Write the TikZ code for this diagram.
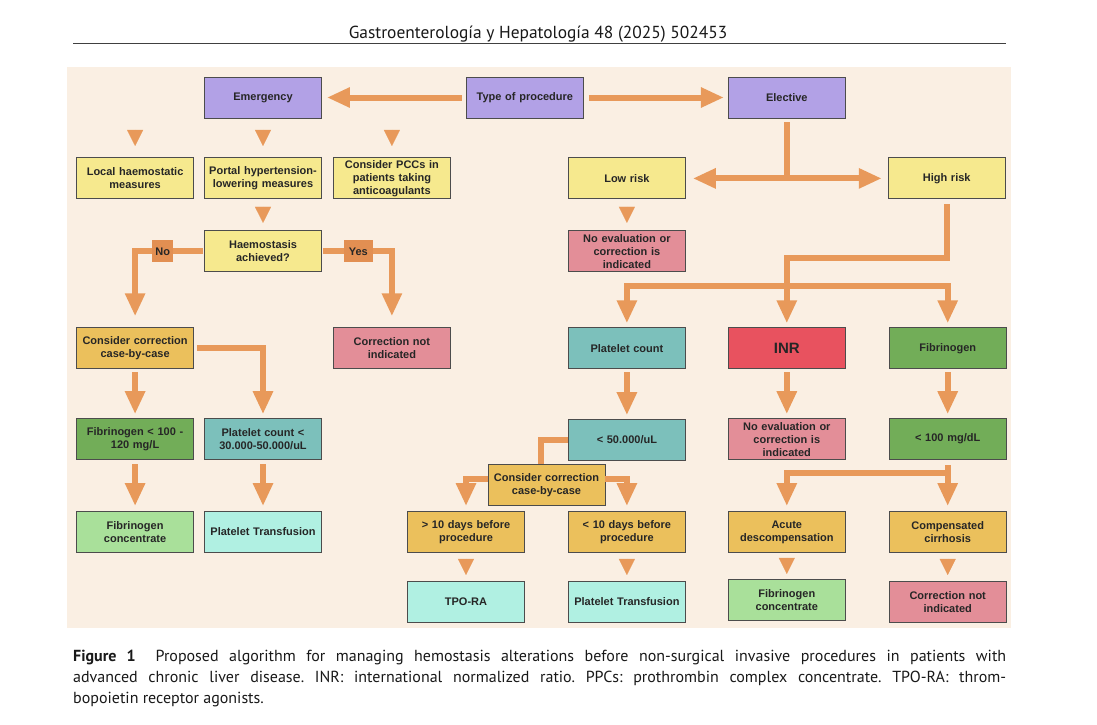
\documentclass[tikz,border=0pt]{standalone}
\usepackage{fontspec}
\newfontfamily\boxfont{Liberation Sans}
\newfontfamily\pagefont{PT Sans}
\usepackage{tikz}
\usetikzlibrary{positioning,arrows.meta,calc}
\frenchspacing
\definecolor{paper}{HTML}{FAEFE3}
\definecolor{flow}{HTML}{E8995A}
\definecolor{flagcol}{HTML}{E28F52}
\definecolor{lavender}{HTML}{B2A1E6}
\definecolor{lemon}{HTML}{F6E98E}
\definecolor{gold}{HTML}{EBC05C}
\definecolor{rose}{HTML}{E38E98}
\definecolor{tealbox}{HTML}{7CC0BB}
\definecolor{inrred}{HTML}{E8525F}
\definecolor{leaf}{HTML}{72AD58}
\definecolor{mint}{HTML}{A9E09A}
\definecolor{aqua}{HTML}{B0F0E2}
\tikzset{
  box/.style={draw=black!70, line width=0.9pt, minimum width=117pt, minimum height=41pt, text width=112pt, align=center, inner sep=2pt, text=black!85, font=\boxfont\bfseries\fontsize{11}{13}\selectfont},
  proc box/.style={box, fill=lavender},
  measure box/.style={box, fill=lemon},
  choice box/.style={box, fill=gold},
  stop box/.style={box, fill=rose},
  count box/.style={box, fill=tealbox},
  inr box/.style={box, fill=inrred, font=\boxfont\bfseries\fontsize{15}{17}\selectfont},
  fib box/.style={box, fill=leaf},
  fibconc box/.style={box, fill=mint},
  drug box/.style={box, fill=aqua},
  flag/.style={fill=flagcol, text=black!85, inner sep=0pt, minimum height=22pt, minimum width=21pt, font=\boxfont\bfseries\fontsize{11}{13}\selectfont},
  flow line/.style={draw=flow, line width=6pt},
  flow arrow/.style={flow line, -{Triangle[width=19pt,length=23pt]}, shorten <=3pt, shorten >=4pt},
  gap arrow/.style={draw=flow, line width=0.1pt, -{Triangle[width=16pt,length=16pt]}, shorten <=#1, shorten >=#1},
  gap arrow/.default=11.5pt,
}

\begin{document}
\begin{tikzpicture}[x=1pt,y=1pt]
\useasboundingbox (0,0) rectangle (1097,-725);
\fill[white] (0,0) rectangle (1097,-725);
\fill[paper] (67,-67) rectangle (1011,-628);

% page header and caption
\node[anchor=base, inner sep=0pt, font=\pagefont\fontsize{17.4}{20}\selectfont, text=black!90] (header) at (538,-38) {Gastroenterología y Hepatología 48 (2025) 502453};
\draw[black!75, line width=0.8pt] (73,-43.5) -- (1006,-43.5);
\node[anchor=north west, inner sep=0pt, text width=933pt, align=justify, font=\pagefont\fontsize{16}{21}\selectfont, text=black!90] (caption) at (73,-650)
  {\textbf{Figure 1}\hspace{20pt}Proposed algorithm for managing hemostasis alterations before non-surgical invasive procedures in patients with\linebreak advanced chronic liver disease. INR: international normalized ratio. PPCs: prothrombin complex concentrate. TPO-RA: throm-\linebreak bopoietin receptor agonists.};

% the nodes
\node[proc box] (emerg) at (263,-97.5) {Emergency};
\node[proc box, right=144pt of emerg] (type) {Type of procedure};
\node[proc box, right=144pt of type] (elect) {Elective};

\node[measure box, below left=39pt and 10pt of emerg] (local) {Local haemostatic\\measures};
\node[measure box, below=39pt of emerg] (portal) {Portal hypertension-\\lowering measures};
\node[measure box, below right=39pt and 11pt of emerg] (pcc) {Consider PCCs in\\patients taking\\anticoagulants};
\node[measure box, below=31pt of portal] (haem) {Haemostasis\\achieved?};

\node[choice box, below left=55pt and 10pt of haem] (consL) {Consider correction\\case-by-case};
\node[stop box, below right=55pt and 11pt of haem] (cniL) {Correction not\\indicated};
\node[fib box, below=49pt of consL] (fibL) {Fibrinogen < 100 -\\120 mg/L};
\node[count box, right=10pt of fibL] (platL) {Platelet count <\\30.000-50.000/uL};
\node[fibconc box, below=51pt of fibL] (fconcL) {Fibrinogen\\concentrate};
\node[drug box, right=10pt of fconcL] (ptransL) {Platelet Transfusion};

\node[measure box, below left=39pt and 42pt of elect] (low) {Low risk};
\node[measure box, below right=39pt and 42pt of elect] (high) {High risk};
\node[stop box, below=31pt of low] (noevalL) {No evaluation or\\correction is\\indicated};

\node[inr box, below right=55pt and 42pt of noevalL] (inr) {INR};
\node[count box, left=42pt of inr] (plat) {Platelet count};
\node[fib box, right=43pt of inr] (fibr) {Fibrinogen};
\node[count box, below=50pt of plat] (p50) {< 50.000/uL};
\node[stop box, below=49pt of inr] (noevalI) {No evaluation or\\correction is\\indicated};
\node[fib box, below=49pt of fibr] (fib100) {< 100 mg/dL};

\node[choice box, below=51pt of noevalI] (acute) {Acute\\descompensation};
\node[choice box, below=51pt of fib100] (comp) {Compensated\\cirrhosis};
\node[choice box, left=42pt of acute] (lt10) {< 10 days before\\procedure};
\node[choice box, left=43pt of lt10] (gt10) {> 10 days before\\procedure};
\coordinate (consmid) at ($(gt10.north)!.5!(lt10.north)$);
\node[choice box, above=5pt of consmid] (consR) {Consider correction\\case-by-case};

\node[drug box, below=28pt of gt10] (tpo) {TPO-RA};
\node[drug box, below=28pt of lt10] (ptransR) {Platelet Transfusion};
\node[fibconc box, below=26pt of acute] (fconcR) {Fibrinogen\\concentrate};
\node[stop box, below=28pt of comp] (cniR) {Correction not\\indicated};

%drawings of arrows
\draw[flow arrow, shorten <=4pt, shorten >=5pt] (type.west) -- (emerg.east);
\draw[flow arrow, shorten <=5pt, shorten >=4pt] (type.east) -- (elect.west);

\draw[gap arrow] (local.north |- emerg.south) -- (local.north);
\draw[gap arrow] (emerg.south) -- (portal.north);
\draw[gap arrow] (pcc.north |- emerg.south) -- (pcc.north);
\draw[gap arrow=7.5pt] (portal.south) -- (haem.north);

\draw[flow arrow, shorten <=1pt, shorten >=11pt] (haem.west) -| (consL.north) node[flag, pos=0.3] {No};
\draw[flow arrow, shorten <=1pt, shorten >=11pt] (haem.east) -| (cniL.north) node[flag, pos=0.26, minimum width=29pt] {Yes};

\draw[flow arrow] (consL.south) -- (fibL.north);
\draw[flow arrow] (consL.east) -| (platL.north);
\draw[flow arrow, shorten <=4pt, shorten >=5pt] (fibL.south) -- (fconcL.north);
\draw[flow arrow, shorten <=4pt, shorten >=5pt] (platL.south) -- (ptransL.north);

\draw[flow arrow, shorten <=4pt, shorten >=7pt] (elect.south) |- (low.east);
\draw[flow arrow, shorten <=4pt, shorten >=6pt] (elect.south) |- (high.west);
\draw[gap arrow=7.5pt] (low.south) -- (noevalL.north);

\draw[flow line, shorten <=5pt] (high.south) -- ++(0,-59) -| ([yshift=41pt]inr.north);
\draw[flow arrow, shorten <=0pt] ([yshift=41pt]inr.north) -| (plat.north);
\draw[flow arrow, shorten <=0pt] ([yshift=41pt]inr.north) -- (inr.north);
\draw[flow arrow, shorten <=0pt] ([yshift=41pt]inr.north) -| (fibr.north);

\draw[flow arrow] (plat.south) -- (p50.north);
\draw[flow arrow] (inr.south) -- (noevalI.north);
\draw[flow arrow] (fibr.south) -- (fib100.north);

\draw[flow line] (p50.west) -| ([xshift=-5pt]consR.north);
\draw[flow arrow, shorten <=0pt, shorten >=5pt] ([yshift=6pt]consR.west) -| (gt10.north);
\draw[flow arrow, shorten <=0pt, shorten >=5pt] ([yshift=6pt]consR.east) -| (lt10.north);

\draw[flow arrow, shorten <=5pt, shorten >=5pt] (fib100.south) -- (comp.north);
\draw[flow arrow, shorten <=0pt, shorten >=5pt] ([yshift=-13pt]fib100.south) -| (acute.north);

\draw[gap arrow=6pt] (gt10.south) -- (tpo.north);
\draw[gap arrow=6pt] (lt10.south) -- (ptransR.north);
\draw[gap arrow=5pt] (acute.south) -- (fconcR.north);
\draw[gap arrow=6pt] (comp.south) -- (cniR.north);

\end{tikzpicture}
\end{document}
